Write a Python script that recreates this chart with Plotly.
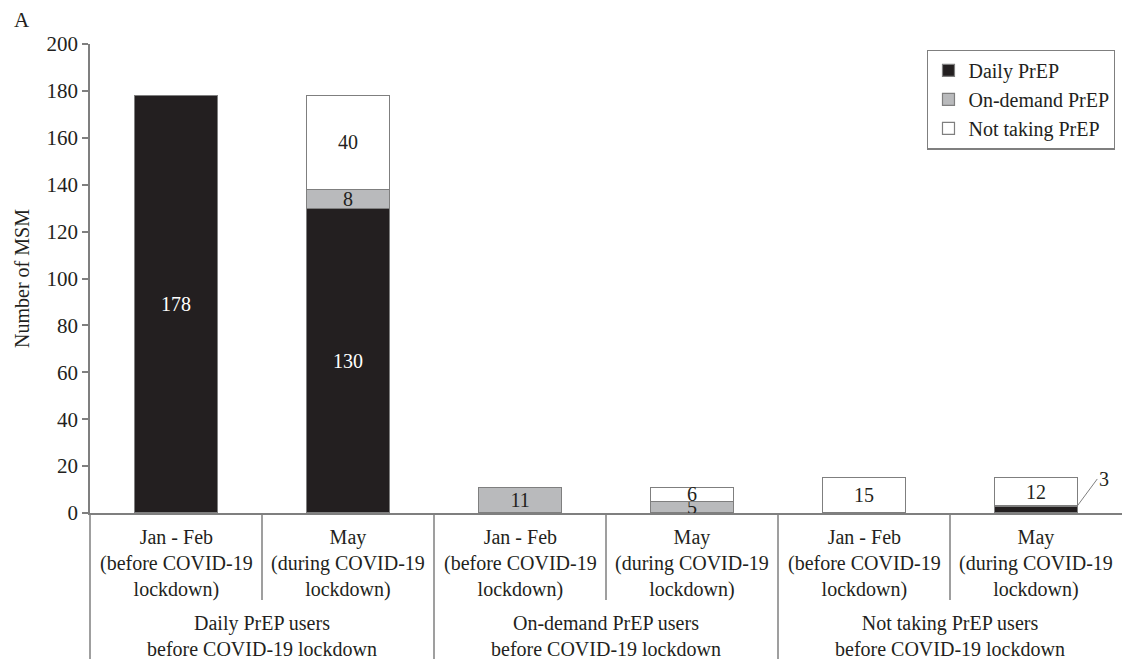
import plotly.graph_objects as go

periods = ["Jan - Feb<br>(before COVID-19<br>lockdown)", "May<br>(during COVID-19<br>lockdown)"] * 3
groups = ["Daily PrEP users<br>before COVID-19 lockdown",
          "On-demand PrEP users<br>before COVID-19 lockdown",
          "Not taking PrEP users<br>before COVID-19 lockdown"]
series_names = ["Daily PrEP", "On-demand PrEP", "Not taking PrEP"]
daily = [178, 130, 0, 0, 0, 3]
ondemand = [0, 8, 11, 5, 0, 0]
notprep = [0, 40, 0, 6, 15, 12]
yticks = [0, 20, 40, 60, 80, 100, 120, 140, 160, 180, 200]

FONT = "Liberation Serif, serif"
INK = "#231f20"
LINE = "#7f7f7f"
FS = 20

x = list(range(len(periods)))
colors = ["#231f20", "#b9babc", "#ffffff"]
textcolors = ["#ffffff", INK, INK]

fig = go.Figure()
for name, vals, col, tc in zip(series_names, [daily, ondemand, notprep], colors, textcolors):
    txt = [str(v) if v >= 5 else "" for v in vals]
    fig.add_trace(go.Bar(
        x=x, y=vals, name=name, width=0.48,
        marker=dict(color=col, line=dict(color=LINE, width=1.2)),
        text=txt, textposition="inside", insidetextanchor="middle",
        textfont=dict(family=FONT, size=FS, color=tc),
        constraintext="none", textangle=0,
    ))

# small value label with leader line
for i, v in enumerate(daily):
    if 0 < v < 5:
        fig.add_annotation(x=i + 0.24, y=v, xref="x", yref="y", text=str(v),
                           showarrow=True, arrowhead=0, arrowwidth=1, arrowcolor=LINE,
                           ax=20, ay=-27, xanchor="left", yanchor="middle",
                           font=dict(family=FONT, size=FS, color=INK))

shapes = []
bottom = -146 / 469
sub_bottom = -87 / 469
# y-axis extension
shapes.append(dict(type="line", xref="paper", yref="paper", x0=0, x1=0, y0=0, y1=bottom,
                   line=dict(color=LINE, width=1.5)))
for i in range(len(periods) - 1):
    b = x[i] + 0.5
    yb = bottom if (i % 2 == 1) else sub_bottom
    shapes.append(dict(type="line", xref="x", yref="paper", x0=b, x1=b, y0=0, y1=yb,
                       line=dict(color=LINE, width=1.5)))

for i, p in enumerate(periods):
    fig.add_annotation(x=x[i], y=-11 / 469, xref="x", yref="paper", text=p, showarrow=False,
                       yanchor="top", font=dict(family=FONT, size=FS, color=INK))
for g, name in enumerate(groups):
    fig.add_annotation(x=2 * g + 0.5, y=-97 / 469, xref="x", yref="paper", text=name,
                       showarrow=False, yanchor="top", font=dict(family=FONT, size=FS, color=INK))

fig.add_annotation(x=-78 / 1032, y=1 + 24 / 469, xref="paper", yref="paper", text="A",
                   showarrow=False, xanchor="left", yanchor="middle",
                   font=dict(family=FONT, size=21, color=INK))

fig.update_layout(
    width=1122, height=659,
    margin=dict(l=90, r=0, t=44, b=146),
    barmode="stack", bargap=0.52,
    plot_bgcolor="white", paper_bgcolor="white",
    font=dict(family=FONT, size=FS, color=INK),
    shapes=shapes,
    showlegend=True,
    legend=dict(x=0.9935, y=0.988, xanchor="right", yanchor="top",
                bordercolor=LINE, borderwidth=1.2, bgcolor="white",
                font=dict(family=FONT, size=FS, color=INK),
                itemwidth=30, tracegroupgap=0, traceorder="normal"),
    xaxis=dict(range=[-0.5, 5.5], showticklabels=False, ticks="", showgrid=False,
               showline=True, linecolor=LINE, linewidth=1.5, zeroline=False, fixedrange=True),
    yaxis=dict(range=[0, 200], tickvals=yticks, ticks="outside", ticklen=6, tickcolor=LINE,
               tickwidth=1.5, showgrid=False, showline=True, linecolor=LINE, linewidth=1.5,
               zeroline=False, title=dict(text="Number of MSM", standoff=12,
                                          font=dict(family=FONT, size=FS, color=INK)),
               tickfont=dict(family=FONT, size=21, color=INK)),
)

fig.write_html("out.html")
